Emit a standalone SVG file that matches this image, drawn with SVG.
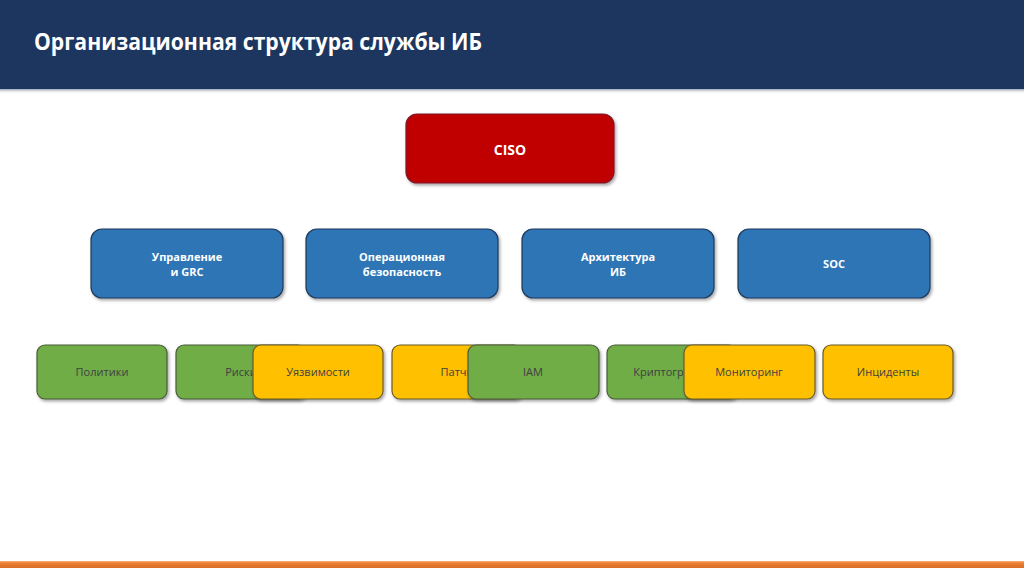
<svg xmlns="http://www.w3.org/2000/svg" width="1024" height="574" viewBox="0 0 1024 574">
<defs>
<filter id="sh" x="-10%" y="-10%" width="125%" height="140%">
<feDropShadow dx="1.5" dy="2" stdDeviation="1.5" flood-color="#000" flood-opacity="0.35"/>
</filter>
<linearGradient id="hs" x1="0" y1="0" x2="0" y2="1">
<stop offset="0" stop-color="#7f8fa6" stop-opacity="0.8"/>
<stop offset="1" stop-color="#ffffff" stop-opacity="0"/>
</linearGradient>
<linearGradient id="ol" x1="0" y1="0" x2="0" y2="1">
<stop offset="0" stop-color="#f4b183"/>
<stop offset="0.3" stop-color="#ed7d31"/>
<stop offset="1" stop-color="#d86e27"/>
</linearGradient>
</defs>
<style>
.t{font-family:"Open Sans","Liberation Sans",sans-serif}
.red{fill:#c00000;stroke:#7a1a2a;stroke-width:1.2}
.blue{fill:#2e75b6;stroke:#1f3b5c;stroke-width:1.2}
.green{fill:#70ad47;stroke:#4a5a3a;stroke-width:1.2}
.yel{fill:#ffc000;stroke:#6b5a2a;stroke-width:1.2}
.w{fill:#ffffff;font-weight:bold;text-anchor:middle}
.d{fill:#404040;font-size:11px;text-anchor:middle}
</style>
<rect width="1024" height="574" fill="#ffffff"/>
<g id="header">
<rect x="0" y="0" width="1024" height="89" fill="#1c3660"/>
<rect x="0" y="89" width="1024" height="5" fill="url(#hs)"/>
<text class="t" x="34" y="50" font-size="24" font-weight="bold" fill="#ffffff" textLength="448" lengthAdjust="spacingAndGlyphs">Организационная структура службы ИБ</text>
</g>
<g id="connectors"></g>
<g id="ciso"><rect class="red" x="406" y="114" width="208" height="69" rx="11" filter="url(#sh)"/><text class="t w" x="510" y="155" font-size="14">CISO</text></g>
<g id="grc"><rect class="blue" x="91" y="229" width="192" height="69" rx="11" filter="url(#sh)"/><text class="t w" x="187" y="261" font-size="11">Управление</text><text class="t w" x="187" y="276" font-size="11">и GRC</text></g>
<g id="ops"><rect class="blue" x="306" y="229" width="192" height="69" rx="11" filter="url(#sh)"/><text class="t w" x="402" y="261" font-size="11">Операционная</text><text class="t w" x="402" y="276" font-size="11">безопасность</text></g>
<g id="arch"><rect class="blue" x="522" y="229" width="192" height="69" rx="11" filter="url(#sh)"/><text class="t w" x="618" y="261" font-size="11">Архитектура</text><text class="t w" x="618" y="276" font-size="11">ИБ</text></g>
<g id="soc"><rect class="blue" x="738" y="229" width="192" height="69" rx="11" filter="url(#sh)"/><text class="t w" x="834" y="268" font-size="11">SOC</text></g>
<g id="policies"><rect class="green" x="37" y="345" width="130" height="54" rx="8" filter="url(#sh)"/><text class="t d" x="102" y="376">Политики</text></g>
<g id="risks"><rect class="green" x="176" y="345" width="130" height="54" rx="8" filter="url(#sh)"/><text class="t d" x="241" y="376">Риски</text></g>
<g id="vuln"><rect class="yel" x="253" y="345" width="130" height="54" rx="8" filter="url(#sh)"/><text class="t d" x="318" y="376">Уязвимости</text></g>
<g id="patches"><rect class="yel" x="392" y="345" width="130" height="54" rx="8" filter="url(#sh)"/><text class="t d" x="457" y="376">Патчи</text></g>
<g id="iam"><rect class="green" x="468" y="345" width="131" height="54" rx="8" filter="url(#sh)"/><text class="t d" x="533" y="376">IAM</text></g>
<g id="crypto"><rect class="green" x="607" y="345" width="130" height="54" rx="8" filter="url(#sh)"/><text class="t d" x="672" y="376">Криптография</text></g>
<g id="monitoring"><rect class="yel" x="684" y="345" width="131" height="54" rx="8" filter="url(#sh)"/><text class="t d" x="749" y="376">Мониторинг</text></g>
<g id="incidents"><rect class="yel" x="823" y="345" width="130" height="54" rx="8" filter="url(#sh)"/><text class="t d" x="888" y="376">Инциденты</text></g>
<g id="footer"><rect x="0" y="561" width="1024" height="7" fill="url(#ol)"/></g>
</svg>
